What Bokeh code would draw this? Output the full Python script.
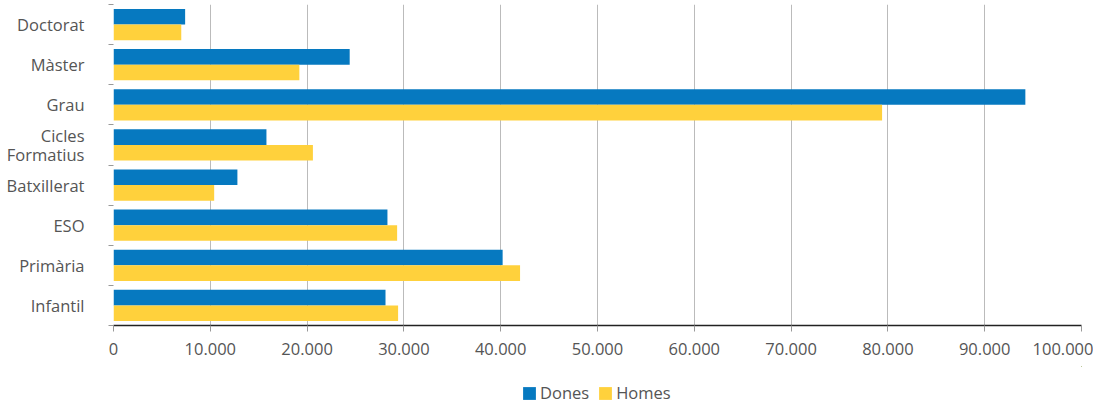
from bokeh.plotting import figure
from bokeh.models import (ColumnDataSource, Range1d, FixedTicker, Legend, LegendItem)
from bokeh.layouts import column
from bokeh.transform import dodge
from bokeh.embed import file_html
from bokeh.resources import INLINE
import numpy as np

categories = ["Doctorat", "Màster", "Grau", "Cicles\nFormatius", "Batxillerat", "ESO", "Primària", "Infantil"]
dones = [7400, 24400, 94200, 15800, 12800, 28300, 40200, 28100]
homes = [7000, 19200, 79400, 20600, 10400, 29300, 42000, 29400]
x_ticks = [0, 10000, 20000, 30000, 40000, 50000, 60000, 70000, 80000, 90000, 100000]
x_tick_labels = ["0", "10.000", "20.000", "30.000", "40.000", "50.000", "60.000", "70.000", "80.000", "90.000", "100.000"]
series_names = ["Dones", "Homes"]

BLUE = "#0679C0"
YELLOW = "#FFD13C"
FONT = "Open Sans"
TXT = "#555555"
FS = "16.5px"

n = len(categories)
ypos = list(np.arange(n)[::-1].astype(float))
src = ColumnDataSource(dict(y=ypos, dones=dones, homes=homes, cat=categories))

p = figure(width=1093, height=366, output_backend="svg", toolbar_location=None,
           x_range=Range1d(0, 100000), y_range=Range1d(-0.5, n - 0.5),
           min_border_left=113, min_border_right=12, min_border_top=4, min_border_bottom=41)
p.outline_line_color = None
p.background_fill_color = "white"

r1 = p.hbar(y=dodge("y", 0.195), left=0, right="dones", height=0.39,
            source=src, fill_color=BLUE, line_color=None)
r2 = p.hbar(y=dodge("y", -0.195), left=0, right="homes", height=0.39,
            source=src, fill_color=YELLOW, line_color=None)

# x axis
p.xaxis.ticker = FixedTicker(ticks=x_ticks, minor_ticks=[])
p.xaxis.major_label_overrides = {t: l for t, l in zip(x_ticks, x_tick_labels)}
p.xaxis.axis_line_color = "#222222"
p.xaxis.axis_line_width = 1.5
p.xaxis.major_tick_line_color = "#999999"
p.xaxis.major_tick_in = 0
p.xaxis.major_tick_out = 6
p.xaxis.major_label_standoff = 11
p.xaxis.major_label_text_font = FONT
p.xaxis.major_label_text_font_size = FS
p.xaxis.major_label_text_color = TXT

# y axis
p.yaxis.ticker = FixedTicker(ticks=ypos, minor_ticks=list(np.arange(n + 1) - 0.5))
p.yaxis.major_label_overrides = {float(y): c for y, c in zip(ypos, categories)}
p.yaxis.axis_line_color = None
p.yaxis.major_tick_line_color = None
p.yaxis.major_tick_in = 0
p.yaxis.major_tick_out = 0
p.yaxis.minor_tick_line_color = "#999999"
p.yaxis.minor_tick_in = 0
p.yaxis.minor_tick_out = 5
p.yaxis.major_label_standoff = 24
p.yaxis.major_label_text_font = FONT
p.yaxis.major_label_text_font_size = FS
p.yaxis.major_label_text_color = TXT
p.yaxis.major_label_text_line_height = 0.8

p.xgrid.ticker = FixedTicker(ticks=x_ticks[1:])
p.xgrid.grid_line_color = "#bbbbbb"
p.ygrid.grid_line_color = None

# legend strip below the chart (its frame is aligned with the chart's frame)
pl = figure(width=1093, height=40, output_backend="svg", toolbar_location=None,
            x_range=Range1d(-2, -1), y_range=Range1d(-2, -1),
            x_axis_type=None, y_axis_type=None,
            min_border_left=113, min_border_right=12, min_border_top=0, min_border_bottom=0)
pl.outline_line_color = None
pl.xgrid.visible = False
pl.ygrid.visible = False
lr1 = pl.hbar(y="y", left=0, right="dones", height=0.39, source=src, fill_color=BLUE, line_color=None)
lr2 = pl.hbar(y="y", left=0, right="homes", height=0.39, source=src, fill_color=YELLOW, line_color=None)
legend = Legend(items=[LegendItem(label=series_names[0], renderers=[lr1]),
                       LegendItem(label=series_names[1], renderers=[lr2])],
                orientation="horizontal", location=(408, 2),
                label_text_font=FONT, label_text_font_size=FS, label_text_color=TXT,
                glyph_width=16, glyph_height=16, label_standoff=3, spacing=8,
                label_height=16, border_line_color=None, background_fill_alpha=0,
                padding=0, margin=0)
pl.add_layout(legend, "center")

layout = column(p, pl, spacing=0)
open("out.html", "w").write(file_html(layout, INLINE))
